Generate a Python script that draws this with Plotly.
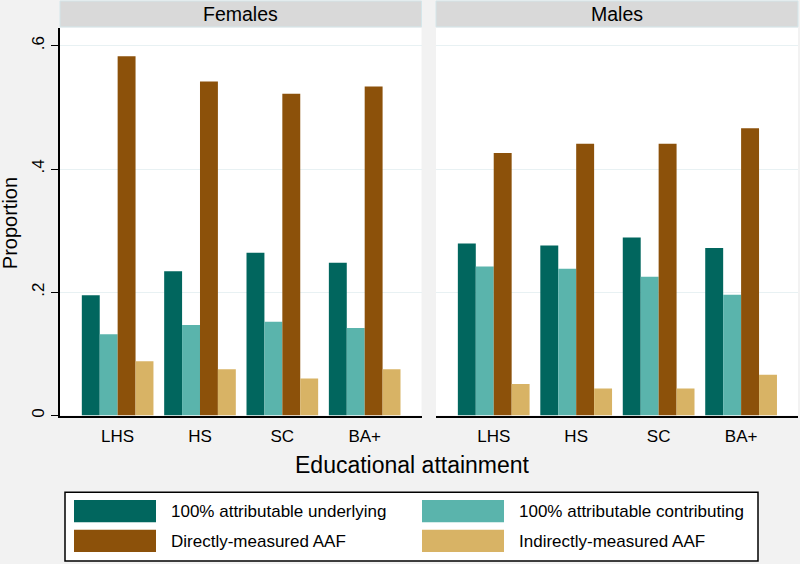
import plotly.graph_objects as go

W, H = 800, 564

categories = ["LHS", "HS", "SC", "BA+"]
panels = ["Females", "Males"]
series_names = [
    "100% attributable underlying",
    "100% attributable contributing",
    "Directly-measured AAF",
    "Indirectly-measured AAF",
]
colors = ["#01665e", "#5ab4ac", "#8c510a", "#d8b365"]

females_underlying = [0.195, 0.234, 0.264, 0.248]
females_contributing = [0.132, 0.147, 0.152, 0.142]
females_direct = [0.583, 0.542, 0.522, 0.534]
females_indirect = [0.088, 0.075, 0.060, 0.075]

males_underlying = [0.279, 0.276, 0.289, 0.272]
males_contributing = [0.242, 0.238, 0.225, 0.196]
males_direct = [0.426, 0.441, 0.441, 0.466]
males_indirect = [0.051, 0.044, 0.044, 0.066]

y_ticks = [0, 0.2, 0.4, 0.6]
y_ticktext = ["0", ".2", ".4", ".6"]

data = {
    "Females": [females_underlying, females_contributing, females_direct, females_indirect],
    "Males": [males_underlying, males_contributing, males_direct, males_indirect],
}

FONT = "Liberation Sans, Arial, sans-serif"


def px_x(p):
    return p / W


def px_y(p):
    return (H - p) / H


fig = go.Figure()
axes = [("x", "y"), ("x2", "y2")]
for (xa, ya), panel in zip(axes, panels):
    for name, col, vals in zip(series_names, colors, data[panel]):
        fig.add_trace(go.Bar(
            x=list(range(len(categories))), y=vals, name=name,
            xaxis=xa, yaxis=ya, marker=dict(color=col, line=dict(width=0)),
            showlegend=False,
        ))

xdom1 = [px_x(60), px_x(421.5)]
xdom2 = [px_x(436), px_x(798)]
ydom = [px_y(417), px_y(28)]
xr = [-0.70, 3.69]
yr = [0, 0.629]
grid = "#e8f1f3"

common_x = dict(
    range=xr, tickvals=list(range(len(categories))), ticktext=categories,
    showline=True, linecolor="black", linewidth=1.5, ticks="outside", ticklen=4,
    tickcolor="rgba(0,0,0,0)", showgrid=False, zeroline=False,
    tickfont=dict(family=FONT, size=17, color="black"),
)
fig.update_layout(
    width=W, height=H,
    margin=dict(l=0, r=0, t=0, b=0),
    paper_bgcolor="#f2f2f2", plot_bgcolor="white",
    barmode="group", bargap=0.13, bargroupgap=0,
    xaxis=dict(domain=xdom1, anchor="y", **common_x),
    xaxis2=dict(domain=xdom2, anchor="y2", **common_x),
    yaxis=dict(domain=ydom, anchor="x", range=yr, tickvals=y_ticks, ticktext=y_ticktext,
               tickangle=-90, ticks="outside", ticklen=7, tickcolor="black",
               showline=True, linecolor="black", linewidth=1.5,
               showgrid=True, gridcolor=grid, gridwidth=1, zeroline=False,
               tickfont=dict(family=FONT, size=17, color="black")),
    yaxis2=dict(domain=ydom, anchor="x2", range=yr, tickvals=y_ticks, showticklabels=False,
                ticks="", showline=False, showgrid=True, gridcolor=grid, gridwidth=1,
                zeroline=False),
    font=dict(family=FONT, color="black"),
)

shapes = []
annotations = []
# strips
for dom, panel in zip([xdom1, xdom2], panels):
    shapes.append(dict(type="rect", xref="paper", yref="paper",
                       x0=dom[0], x1=dom[1], y0=px_y(27), y1=px_y(1),
                       fillcolor="#d9d9d9", line=dict(color="#d4e6ea", width=1)))
    annotations.append(dict(xref="paper", yref="paper", x=(dom[0] + dom[1]) / 2, y=px_y(14),
                            text=panel, showarrow=False, xanchor="center", yanchor="middle",
                            font=dict(family=FONT, size=19.5, color="black")))

# axis titles
annotations.append(dict(xref="paper", yref="paper", x=px_x(412), y=px_y(467),
                        text="Educational attainment", showarrow=False,
                        xanchor="center", yanchor="middle",
                        font=dict(family=FONT, size=23, color="black")))
annotations.append(dict(xref="paper", yref="paper", x=px_x(10), y=px_y(224),
                        text="Proportion", showarrow=False, textangle=-90,
                        xanchor="center", yanchor="middle",
                        font=dict(family=FONT, size=20, color="black")))

# legend box
shapes.append(dict(type="rect", xref="paper", yref="paper",
                   x0=px_x(65), x1=px_x(758), y0=px_y(563), y1=px_y(494),
                   fillcolor="white", line=dict(color="black", width=1.5)))
legend_pos = [(74, 501.7), (422, 501.7), (74, 531.7), (422, 531.7)]
for (lx, ly), name, col in zip(legend_pos, series_names, colors):
    shapes.append(dict(type="rect", xref="paper", yref="paper",
                       x0=px_x(lx), x1=px_x(lx + 82), y0=px_y(ly + 22.3), y1=px_y(ly),
                       fillcolor=col, line=dict(width=0)))
    annotations.append(dict(xref="paper", yref="paper", x=px_x(lx + 95), y=px_y(ly + 11.5),
                            text=name, showarrow=False, xanchor="left", yanchor="middle",
                            font=dict(family=FONT, size=17, color="black")))

fig.update_layout(shapes=shapes, annotations=annotations)
fig.write_html(
    "out.html",
    config={"displayModeBar": False},
    post_script="document.body.style.margin='0px';document.body.style.overflow='hidden';",
)
